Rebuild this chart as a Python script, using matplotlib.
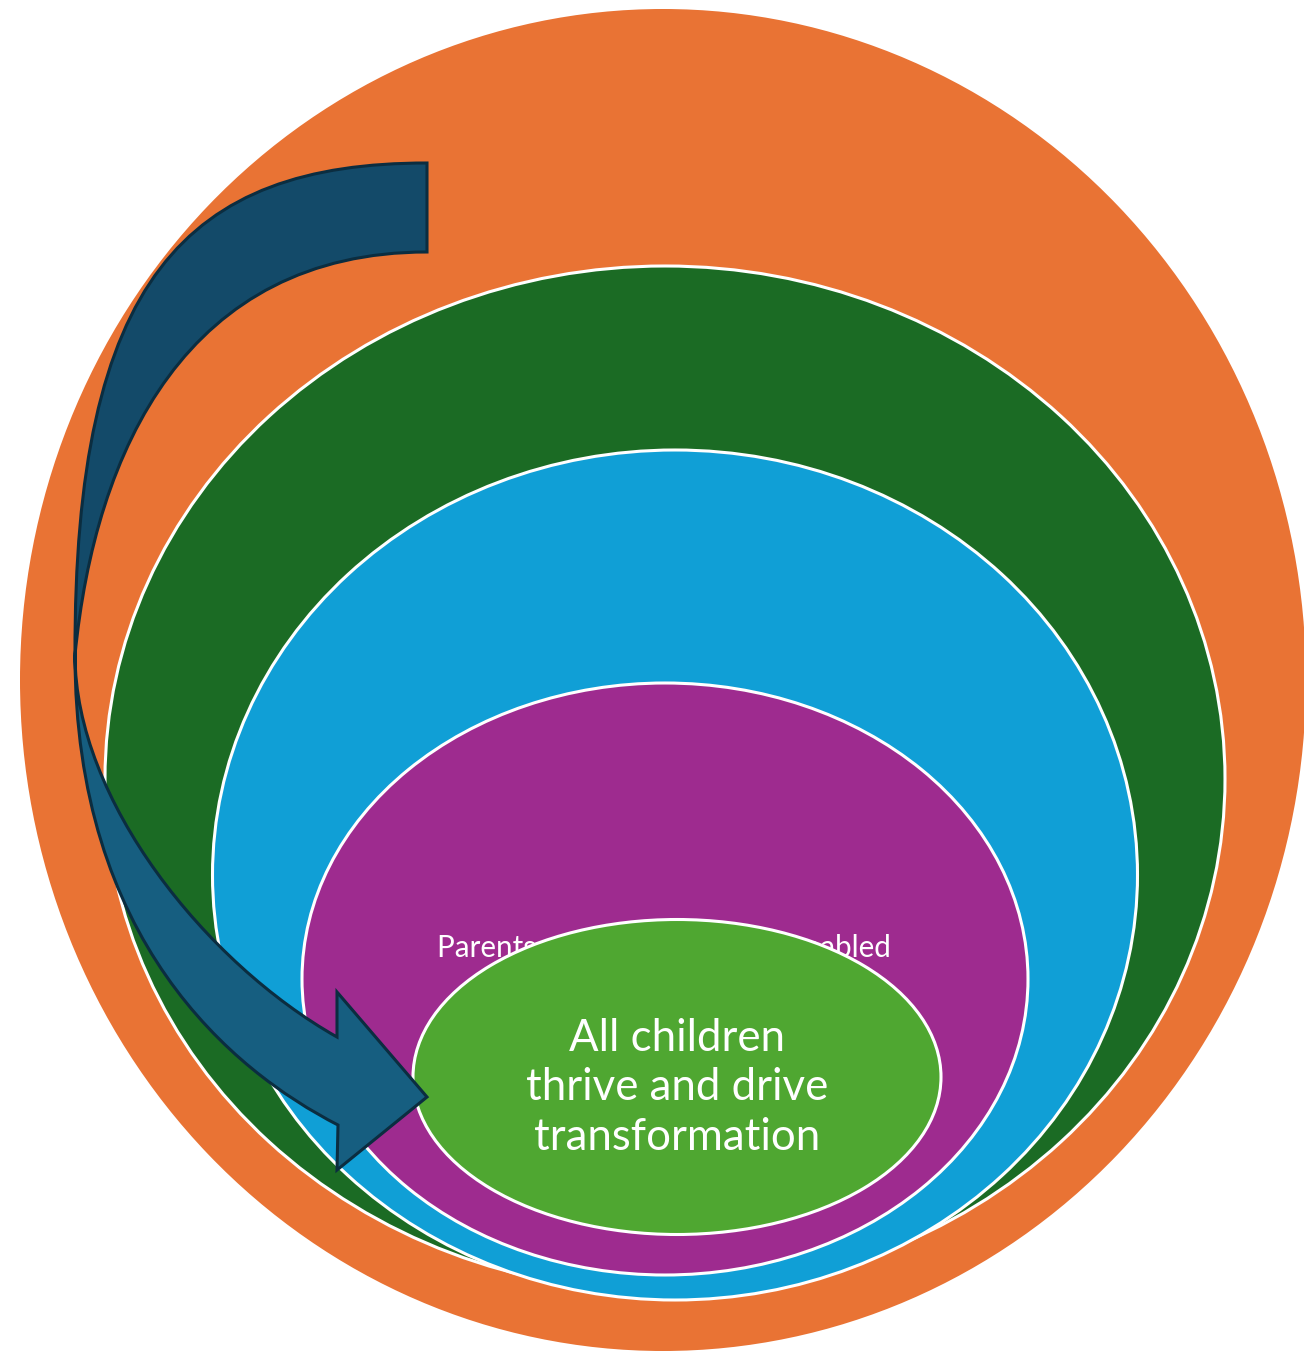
import matplotlib
matplotlib.use("Agg")
import matplotlib.pyplot as plt
from matplotlib.patches import Ellipse, PathPatch
from matplotlib.path import Path

plt.rcParams['font.family'] = ['Lato', 'DejaVu Sans']

# ==========================
# LAYERS (outer -> inner)
# ==========================

layer_names = ["outer", "community", "services", "parents", "children"]
layer_colors = ["#e97334", "#1b6b24", "#109fd6", "#9e2b8f", "#4fa731"]
layer_cx = [663, 665, 675, 665, 677]
layer_cy = [680, 779, 875, 979, 1077]
layer_w = [1286, 1120, 925, 726, 528]
layer_h = [1342, 1026, 850, 592, 315]
layer_edge = [None, "white", "white", "white", "white"]

parents_label = "Parents and caregivers are enabled"
centre_label = "All children\nthrive and drive\ntransformation"

# arrow outline (pixel space, y down)
arrow_upper = [(427, 163), (186, 163), (74, 280), (75, 655),
               (95, 450), (187, 252), (427, 252), (427, 163)]
arrow_lower = [(75, 655), (75, 800), (206, 963), (337, 1037),
               (337, 992), (427, 1097), (337, 1170), (338, 1125),
               (231, 1070), (75, 940), (75, 655), (75, 655)]

# ==========================
# FIGURE
# ==========================

fig = plt.figure(figsize=(13.04, 13.55), dpi=100)
ax = fig.add_axes([0, 0, 1, 1])
ax.set_xlim(0, 1304)
ax.set_ylim(1355, 0)
ax.axis("off")

for i, name in enumerate(layer_names):
    ec = layer_edge[i] if layer_edge[i] else "none"
    e = Ellipse((layer_cx[i], layer_cy[i]), layer_w[i], layer_h[i],
                facecolor=layer_colors[i], edgecolor=ec, lw=2.2, zorder=i + 1)
    ax.add_patch(e)
    if name == "parents":
        ax.text(664, 948, parents_label, color="white", fontsize=21.3,
                ha="center", va="center", zorder=i + 1)

ax.text(677, 1088, centre_label, color="white", fontsize=31.5,
        ha="center", va="center", linespacing=1.27, zorder=10)

# ==========================
# CURVED ARROW
# ==========================

up_codes = [Path.MOVETO, Path.CURVE4, Path.CURVE4, Path.CURVE4,
            Path.CURVE4, Path.CURVE4, Path.CURVE4, Path.CLOSEPOLY]
low_codes = [Path.MOVETO, Path.CURVE4, Path.CURVE4, Path.CURVE4,
             Path.LINETO, Path.LINETO, Path.LINETO, Path.LINETO,
             Path.CURVE4, Path.CURVE4, Path.CURVE4, Path.CLOSEPOLY]

ax.add_patch(PathPatch(Path(arrow_upper, up_codes), facecolor="#134a69",
                       edgecolor="#0b2d40", lw=2.2, joinstyle="miter", zorder=20))
ax.add_patch(PathPatch(Path(arrow_lower, low_codes), facecolor="#165e80",
                       edgecolor="#0b2d40", lw=2.2, joinstyle="miter", zorder=20))

plt.savefig("out.png", dpi=100)
plt.close()
